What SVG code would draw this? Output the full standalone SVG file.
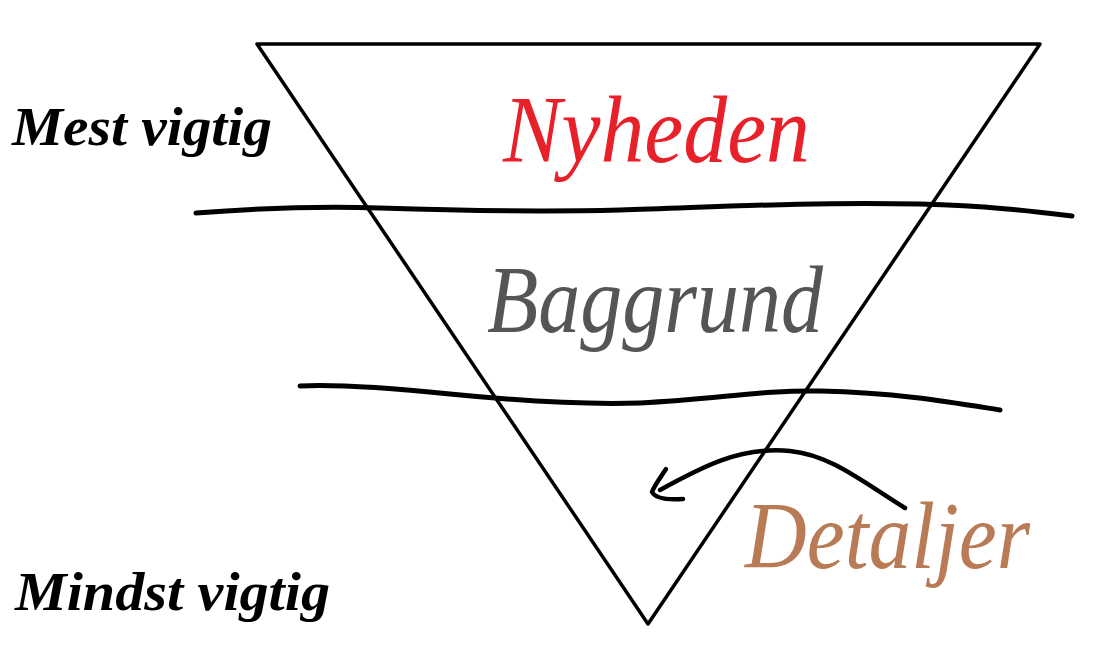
<svg xmlns="http://www.w3.org/2000/svg" width="1095" height="672" viewBox="0 0 1095 672">
<style>
.t{font-family:"Liberation Serif","DejaVu Serif",serif;font-style:italic}
.side{font-weight:bold;font-size:54px;fill:#000}
.big{font-size:96px}
.ln{fill:none;stroke:#000;stroke-linecap:round;stroke-linejoin:round}
</style>
<rect width="1095" height="672" fill="#fff"/>
<g id="triangle">
<polygon points="257,44 1040,44 648,624" class="ln" stroke-width="3.5"/>
</g>
<g id="connectors">
<path class="ln" stroke-width="5" d="M196,213 C260,208 320,206 380,208 C470,211 540,212 620,210 C720,207 800,202 920,204 C990,206 1030,211 1072,216"/>
<path class="ln" stroke-width="5" d="M300,386 C340,384 400,389 450,394 C520,401 580,405 640,403 C720,399 760,390 820,391 C900,393 950,402 1000,410"/>
<path class="ln" stroke-width="4.5" d="M905,508 C860,480 830,455 790,451 C740,446 700,468 660,490"/>
<path class="ln" stroke-width="4.5" d="M666,469 C660,478 654,486 652,492 C656,499 670,500 683,499"/>
</g>
<g id="mest"><text class="t side" x="12" y="145" textLength="260" lengthAdjust="spacingAndGlyphs">Mest vigtig</text></g>
<g id="mindst"><text class="t side" x="15" y="610" textLength="315" lengthAdjust="spacingAndGlyphs">Mindst vigtig</text></g>
<g id="nyheden"><text class="t big" x="503" y="162" fill="#e8202a" textLength="307" lengthAdjust="spacingAndGlyphs">Nyheden</text></g>
<g id="baggrund"><text class="t big" x="487" y="332" fill="#555555" textLength="336" lengthAdjust="spacingAndGlyphs">Baggrund</text></g>
<g id="detaljer"><text class="t big" x="745" y="568" fill="#b97b56" textLength="285" lengthAdjust="spacingAndGlyphs">Detaljer</text></g>
</svg>
